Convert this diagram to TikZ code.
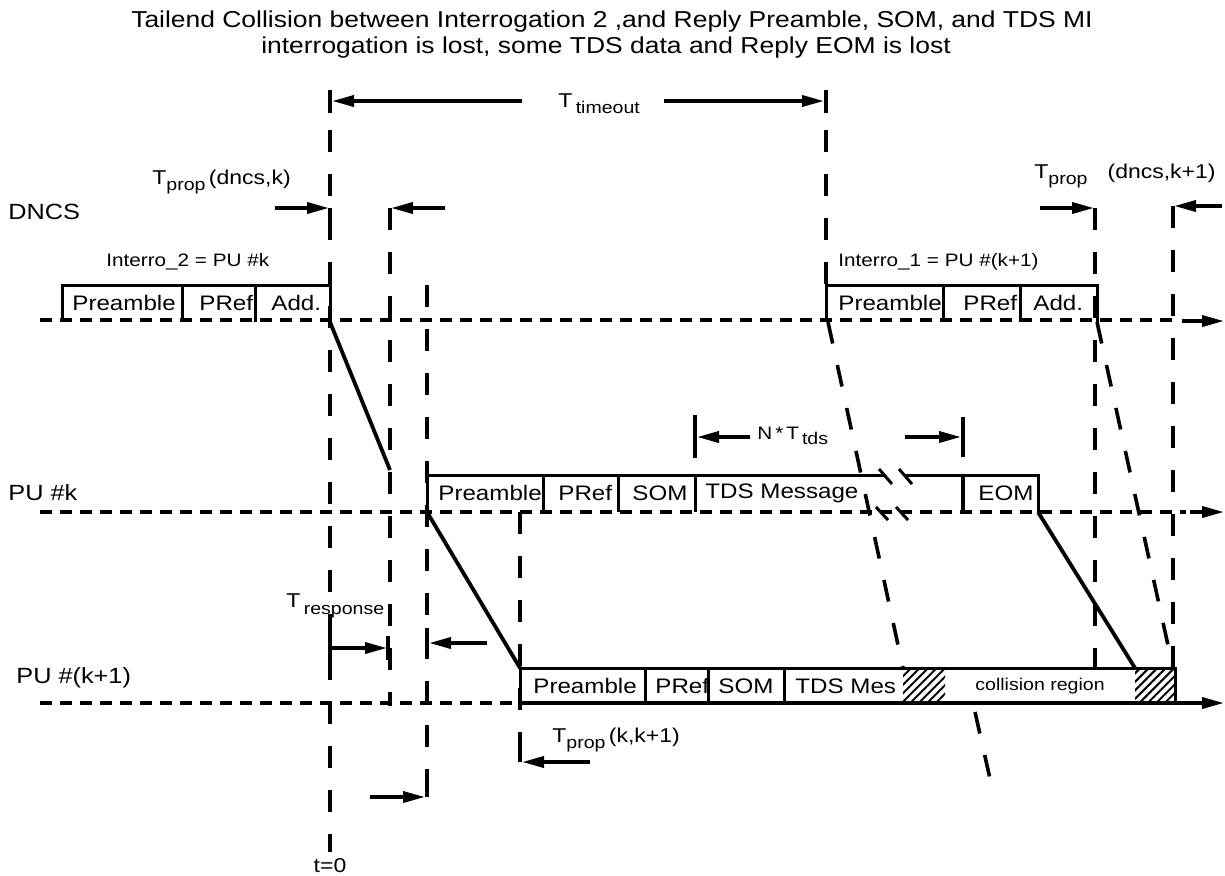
\documentclass[tikz,border=0pt]{standalone}
\usepackage{fontspec}
\setmainfont[FakeStretch=1.15]{Liberation Sans}
\usetikzlibrary{arrows.meta,patterns.meta}
\tikzset{
  axisln/.style={dash pattern=on 6pt off 4pt, line width=1.8pt},
  markln/.style={dash pattern=on 11pt off 11pt, line width=1.8pt},
  frameln/.style={line width=1.5pt},
  sigln/.style={line width=1.9pt},
  barln/.style={line width=1.8pt},
  dimarr/.style={-{Triangle[length=11pt,width=5.5pt]}, line width=1.8pt},
  hatchfill/.style={pattern={Lines[angle=45,distance=3pt,line width=1pt]}},
  titletxt/.style={inner sep=0pt, font=\fontsize{11.5}{13}\selectfont},
  rowlbl/.style={anchor=west, inner sep=0pt, font=\fontsize{11}{13}\selectfont},
  celltxt/.style={anchor=west, inner sep=0pt, font=\fontsize{10.5}{12}\selectfont},
  smalllbl/.style={anchor=west, inner sep=0pt, font=\fontsize{9}{11}\selectfont},
  tlbl/.style={anchor=west, inner sep=0pt, font=\fontsize{10}{12}\selectfont},
}
\newcommand{\lowsub}[1]{\raisebox{-0.6ex}{\fontsize{8.5}{10}\selectfont #1}}
\newcommand{\parenfont}{\fontsize{10}{12}\selectfont}

\begin{document}
\begin{tikzpicture}[x=0.5pt,y=-0.5pt]
    \useasboundingbox (0,0) rectangle (1225,875);
    \node[titletxt] (head1) at (612,22)
      {Tailend Collision between Interrogation 2 ,and Reply Preamble, SOM, and TDS MI};
    \node[titletxt] (head2) at (606,48)
      {interrogation is lost, some TDS data and Reply EOM is lost};

    \node[rowlbl] (dncs) at (8,212) {DNCS};
    \node[rowlbl] (puk) at (8,493) {PU \#k};
    \node[rowlbl] (pukk) at (16,678) {PU \#(k+1)};

    \coordinate (dncsL) at (40,320);
    \coordinate (dncsR) at (1224,321);
    \coordinate (pukL) at (40,512);
    \coordinate (pukR) at (1224,512);
    \coordinate (pukkL) at (40,703);
    \coordinate (pukkR) at (1224,703);
    \draw[axisln] (dncsL) -- (1178,320);
    \draw[dimarr] (1182,321) -- (dncsR);
    \draw[axisln] (pukL) -- (1186,512);
    \draw[dimarr] (1190,512) -- (pukR);
    \draw[axisln] (pukkL) -- (520,703);
    \draw[dimarr] (520,703) -- (pukkR);

    \draw[markln] (330,130) -- (330,852);
    \draw[markln] (390,208) -- (390,706);
    \draw[markln] (427,285) -- (427,797);
    \draw[markln] (520,512) -- (520,762);
    \draw[markln] (826,130) -- (826,285);
    \draw[markln] (1095,208) -- (1095,668);
    \draw[markln] (1173,206) -- (1173,668);
    \draw[markln] (828,322) -- (903,668);
    \draw[markln] (1097,322) -- (1173,668);
    \draw[markln] (975,712) -- (993,792);

    \draw[frameln] (62,322) -- (62,285) -- (330,285) -- (330,322);
    \draw[frameln] (182,285) -- (182,322) (255,285) -- (255,322);
    \node[celltxt] (i2pre) at (72,303) {Preamble};
    \node[celltxt] (i2pref) at (199,303) {PRef};
    \node[celltxt] (i2add) at (271,303) {Add.};
    \node[smalllbl] (i2lbl) at (106,262) {Interro\_2 = PU \#k};

    \draw[frameln] (826,322) -- (826,285) -- (1097,285) -- (1097,322);
    \draw[frameln] (943,285) -- (943,322) (1020,285) -- (1020,322);
    \node[celltxt] (i1pre) at (838,303) {Preamble};
    \node[celltxt] (i1pref) at (963,303) {PRef};
    \node[celltxt] (i1add) at (1033,303) {Add.};
    \node[smalllbl] (i1lbl) at (838,262) {Interro\_1 = PU \#(k+1)};

    \draw[frameln] (427,512) -- (427,475) -- (884,475);
    \draw[frameln] (904,475) -- (1038,475) -- (1038,512);
    \draw[frameln] (543,475) -- (543,512) (618,475) -- (618,512)
      (695,475) -- (695,512);
    \draw[line width=2.4pt] (963,475) -- (963,510);
    \draw[frameln] (879,469) -- (892,484) (899,469) -- (912,484);
    \draw[frameln] (876,507) -- (888,520) (896,507) -- (908,520);
    \node[celltxt] (kpre) at (438,493) {Preamble};
    \node[celltxt] (kpref) at (558,493) {PRef};
    \node[celltxt] (ksom) at (632,493) {SOM};
    \node[celltxt] (ktds) at (705,493) {TDS Message};
    \node[celltxt] (keom) at (978,493) {EOM};

    \fill[hatchfill] (903,668) rectangle (945,703);
    \fill[hatchfill] (1135,668) rectangle (1175,703);
    \draw[frameln] (520,703) -- (520,668) -- (1175,668) -- (1175,703);
    \draw[frameln] (645,668) -- (645,703) (708,668) -- (708,703)
      (784,668) -- (784,703);
    \node[celltxt] (kkpre) at (533,686) {Preamble};
    \node[celltxt] (kkpref) at (655,686) {PRef};
    \node[celltxt] (kksom) at (718,686) {SOM};
    \node[celltxt] (kktds) at (795,686) {TDS Mes};
    \node[inner sep=0pt, font=\fontsize{8.5}{10}\selectfont] (coll) at (1040,686)
      {collision region};

    \coordinate (i2end) at (330,322);
    \coordinate (krx) at (390,470);
    \coordinate (ktx) at (427,512);
    \coordinate (kkrx) at (520,668);
    \coordinate (keomend) at (1038,512);
    \coordinate (kkeom) at (1135,668);
    \draw[sigln] (i2end) -- (krx);
    \draw[sigln] (ktx) -- (kkrx);
    \draw[sigln] (keomend) -- (kkeom);

    \draw[barln] (330,90) -- (330,113) (826,90) -- (826,113);
    \draw[dimarr] (522,101) -- (332,101);
    \draw[dimarr] (664,101) -- (824,101);
    \node[tlbl] (tto) at (558,104) {T\,\lowsub{timeout}};

    \node[tlbl] (tpdk) at (152,182) {T\lowsub{prop}\,{\parenfont(dncs,k)}};
    \draw[dimarr] (275,208) -- (329,208);
    \draw[dimarr] (445,208) -- (391,208);
    \draw[barln] (330,208) -- (330,224) (390,208) -- (390,224);

    \node[tlbl] (tpdkk) at (1034,176) {T\lowsub{prop}\quad{\parenfont(dncs,k+1)}};
    \draw[dimarr] (1040,208) -- (1094,208);
    \draw[dimarr] (1222,206) -- (1174,206);
    \draw[barln] (1095,208) -- (1095,224) (1173,206) -- (1173,222);

    \draw[barln] (695,415) -- (695,458) (963,417) -- (963,457);
    \draw[dimarr] (750,437) -- (697,437);
    \draw[dimarr] (905,437) -- (961,437);
    \node[tlbl, font=\fontsize{9}{11}\selectfont] (ntds) at (757,436)
      {N\,*\,T\,\lowsub{tds}};

    \node[tlbl] (tresp) at (286,606) {T\,\lowsub{response}};
    \draw[barln] (330,636) -- (330,660) (388,636) -- (388,660);
    \draw[dimarr] (331,648) -- (387,648);
    \draw[dimarr] (487,643) -- (429,643);
    \draw[barln] (427,643) -- (427,628);

    \node[tlbl] (tpkk) at (552,740) {T\lowsub{prop}\,{\parenfont(k,k+1)}};
    \draw[dimarr] (590,762) -- (522,762);
    \draw[barln] (520,762) -- (520,748);
    \draw[dimarr] (370,797) -- (425,797);
    \draw[barln] (427,797) -- (427,782);

    \node[tlbl, anchor=center] (tzero) at (330,866) {t=0};
\end{tikzpicture}
\end{document}
